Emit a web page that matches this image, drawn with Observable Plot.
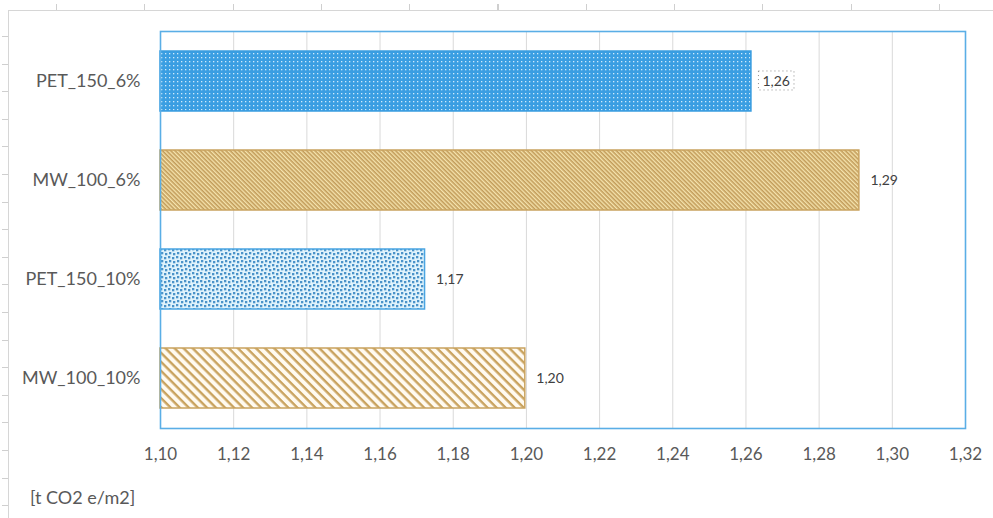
<!DOCTYPE html>
<html>
<head>
<meta charset="utf-8">
<script src="https://cdn.jsdelivr.net/npm/d3@7"></script>
<script src="https://cdn.jsdelivr.net/npm/@observablehq/plot@0.6"></script>
<style>
  html, body { margin: 0; padding: 0; background: #fff; }
  #chart { position: relative; width: 993px; height: 518px; overflow: hidden; background: #fff;
           font-family: Lato, "Open Sans", sans-serif; }
  #chart svg { position: absolute; left: 0; top: 0; }
  .sheet-top { position: absolute; left: 8px; right: 0; top: 10px; height: 0; border-top: 1px solid #d6d6d6; }
  .sheet-top-ticks { position: absolute; left: 56px; right: 0; top: 4px; height: 6px;
           background: repeating-linear-gradient(to right, #cfcfcf 0 1px, transparent 1px 88.3px); }
  .sheet-left { position: absolute; left: 8px; top: 10px; bottom: 0; width: 0; border-left: 1px solid #d6d6d6; }
  .sheet-left-ticks { position: absolute; left: 2px; top: 36px; bottom: 0; width: 6px;
           background: repeating-linear-gradient(to bottom, #cfcfcf 0 1px, transparent 1px 27.6px); }
  .unit { position: absolute; left: 30px; top: 488px; font-size: 18px; line-height: 1; color: #595959; }
</style>
</head>
<body>
<div id="chart">
  <div class="sheet-top"></div>
  <div class="sheet-top-ticks"></div>
  <div class="sheet-left"></div>
  <div class="sheet-left-ticks"></div>
</div>
<script>
// Embodied emissions per variant, t CO2 e per m2
const categories = ["PET_150_6%", "MW_100_6%", "PET_150_10%", "MW_100_10%"];
const values = [1.2615, 1.2910, 1.1723, 1.1997];
const xTicks = [1.10, 1.12, 1.14, 1.16, 1.18, 1.20, 1.22, 1.24, 1.26, 1.28, 1.30, 1.32];
const unitLabel = "[t CO2 e/m2]";

const rows = categories.map((category, i) => ({category, value: values[i]}));

// Hatch / dot fills per variant
const barFill = {
  "PET_150_6%": "url(#fill-pet-6)",
  "MW_100_6%": "url(#fill-mw-6)",
  "PET_150_10%": "url(#fill-pet-10)",
  "MW_100_10%": "url(#fill-mw-10)"
};
const barStroke = {
  "PET_150_6%": "#3a9de0",
  "MW_100_6%": "#c9a35f",
  "PET_150_10%": "#4aa5e2",
  "MW_100_10%": "#c9a35f"
};

const comma = d => d3.format(".2f")(d).replace(".", ",");

const svg = Plot.plot({
  width: 993,
  height: 470,
  marginTop: 31,
  marginBottom: 42,
  marginLeft: 160,
  marginRight: 28,
  style: {fontFamily: "Lato, 'Open Sans', sans-serif", color: "#595959", background: "transparent"},
  x: {domain: [xTicks[0], xTicks[xTicks.length - 1]], label: null},
  y: {domain: categories, paddingInner: 0.395, paddingOuter: 0.1975, label: null},
  color: {type: "identity"},
  marks: [
    Plot.gridX(xTicks, {stroke: "#d9d9d9", strokeOpacity: 1, strokeWidth: 1}),
    Plot.barX(rows, {
      y: "category",
      x1: () => xTicks[0],
      x2: "value",
      fill: d => barFill[d.category],
      stroke: d => barStroke[d.category],
      strokeWidth: 1.5
    }),
    Plot.text(rows, {
      y: "category",
      x: "value",
      text: d => comma(d.value),
      dx: 11,
      textAnchor: "start",
      fontSize: 14,
      fill: "#404040"
    }),
    Plot.axisX(xTicks, {tickSize: 0, tickPadding: 19, fontSize: 17, tickFormat: comma, label: null}),
    Plot.axisY({tickSize: 0, tickPadding: 20, fontSize: 18, label: null}),
    Plot.frame({stroke: "#5aaee6", strokeWidth: 1.6})
  ]
});

// Pattern definitions referenced by the bar fills
const defs = d3.select(svg).insert("defs", ":first-child");

const p1 = defs.append("pattern").attr("id", "fill-pet-6")
  .attr("patternUnits", "userSpaceOnUse").attr("width", 4).attr("height", 4);
p1.append("rect").attr("width", 4).attr("height", 4).attr("fill", "#3a9ee2");
p1.append("rect").attr("x", 1).attr("y", 1).attr("width", 1.3).attr("height", 1.3).attr("fill", "#cfeafb");

const p2 = defs.append("pattern").attr("id", "fill-mw-6")
  .attr("patternUnits", "userSpaceOnUse").attr("width", 3).attr("height", 3)
  .attr("patternTransform", "rotate(45)");
p2.append("rect").attr("width", 3).attr("height", 3).attr("fill", "#f5e4ae");
p2.append("rect").attr("width", 3).attr("height", 1.6).attr("fill", "#c29c5a");

const p3 = defs.append("pattern").attr("id", "fill-pet-10")
  .attr("patternUnits", "userSpaceOnUse").attr("width", 8).attr("height", 8);
p3.append("rect").attr("width", 8).attr("height", 8).attr("fill", "#e0f3fc");
[[0, 0], [4, 1], [1, 4], [5, 5]].forEach(([x, y]) =>
  p3.append("rect").attr("x", x).attr("y", y).attr("width", 2.3).attr("height", 2.3).attr("fill", "#4b93c9"));

const p4 = defs.append("pattern").attr("id", "fill-mw-10")
  .attr("patternUnits", "userSpaceOnUse").attr("width", 6.4).attr("height", 6.4)
  .attr("patternTransform", "rotate(45)");
p4.append("rect").attr("width", 6.4).attr("height", 6.4).attr("fill", "#fffaf0");
p4.append("rect").attr("width", 6.4).attr("height", 2.4).attr("fill", "#c9a35f");

const chart = document.getElementById("chart");
chart.appendChild(svg);

// Dotted selection box around the first data label (same transform as the label)
const firstLabel = svg.querySelector('g[aria-label="text"] text');
if (firstLabel) {
  const b = firstLabel.getBBox();
  const box = d3.select(firstLabel.parentNode).insert("rect", ":first-child")
    .attr("x", b.x - 4).attr("y", b.y - 1).attr("width", b.width + 8).attr("height", b.height + 2)
    .attr("fill", "none").attr("stroke", "#8c8c8c").attr("stroke-width", 1)
    .attr("stroke-dasharray", "1 3");
  const t = firstLabel.getAttribute("transform");
  if (t) box.attr("transform", t);
}

const unit = document.createElement("div");
unit.className = "unit";
unit.textContent = unitLabel;
chart.appendChild(unit);
</script>
</body>
</html>
